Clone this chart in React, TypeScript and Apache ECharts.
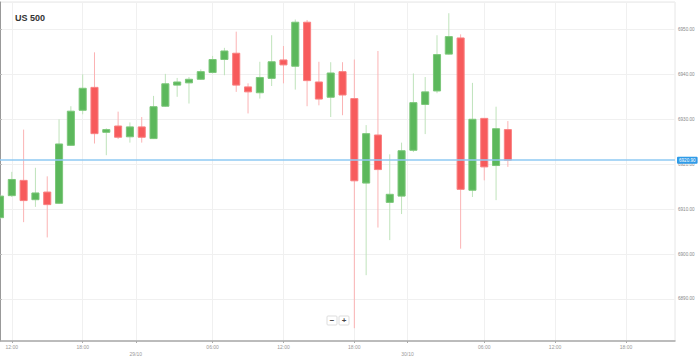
import React, { useEffect, useRef } from 'react';
import * as echarts from 'echarts';

// Hourly candle slots (market break removes one hour per day)
const slots = [
  0, 1, 2, 3, 4, 5, 6, 7, 8, 9, 10, 11, 12, 13, 14, 15, 16, 17, 18, 19, 20, 21,
  22, 23, 24, 25, 26, 27, 28, 29, 30, 31, 32, 33, 34, 35, 36, 37, 38, 39, 40, 41, 42, 43,
];
const opens = [
  6908.1, 6913.0, 6916.4, 6912.1, 6913.8, 6911.3, 6924.2, 6932.0, 6937.1, 6927.1, 6928.5,
  6926.1, 6928.3, 6925.7, 6932.9, 6937.6, 6938.1, 6938.9, 6940.4, 6943.3, 6944.7, 6937.2,
  6935.9, 6939.1, 6943.2, 6941.8, 6951.6, 6938.3, 6934.9, 6940.6, 6934.6, 6915.8, 6926.5,
  6911.5, 6912.9, 6923.1, 6933.3, 6936.3, 6944.5, 6948.1, 6914.2, 6930.2, 6919.7, 6927.7,
];
const closes = [
  6912.9, 6916.6, 6911.9, 6913.6, 6911.0, 6924.5, 6931.8, 6936.9, 6926.8, 6927.7, 6926.0,
  6928.3, 6926.0, 6932.8, 6937.9, 6938.3, 6938.9, 6940.6, 6943.3, 6945.2, 6937.6, 6936.1,
  6939.3, 6942.8, 6942.1, 6951.6, 6938.6, 6934.5, 6940.3, 6935.4, 6916.3, 6926.8, 6918.8,
  6913.3, 6923.0, 6933.7, 6936.1, 6944.4, 6948.4, 6914.4, 6930.0, 6919.4, 6927.9, 6920.9,
];
const lows = [
  6907.8, 6912.7, 6907.1, 6910.5, 6903.7, 6911.2, 6924.1, 6931.1, 6924.6, 6922.0, 6925.6,
  6924.8, 6924.8, 6925.6, 6932.8, 6935.0, 6933.5, 6938.8, 6940.2, 6939.8, 6936.1, 6931.3,
  6934.6, 6937.4, 6938.0, 6936.6, 6932.9, 6933.1, 6930.5, 6930.9, 6883.5, 6895.3, 6905.9,
  6903.1, 6908.9, 6922.7, 6926.7, 6935.8, 6944.4, 6901.2, 6912.7, 6916.4, 6912.0, 6919.4,
];
const highs = [
  6913.2, 6918.3, 6927.7, 6919.2, 6917.3, 6930.0, 6932.9, 6940.0, 6944.9, 6928.0, 6931.7,
  6929.3, 6930.5, 6935.2, 6940.1, 6939.2, 6939.4, 6941.1, 6944.1, 6945.9, 6949.5, 6938.0,
  6942.8, 6948.7, 6946.3, 6952.2, 6952.1, 6942.8, 6942.7, 6942.7, 6943.3, 6928.7, 6945.2,
  6922.2, 6924.8, 6940.2, 6939.4, 6948.7, 6953.6, 6948.9, 6938.1, 6930.2, 6932.8, 6929.6,
];

// x-axis tick positions (in candle slots) and their labels
const tickSlots = [1, 7, 11.5, 18, 24, 30, 34.5, 41, 47, 53];
const tickLabels = ['12:00', '18:00', '\n29/10', '06:00', '12:00', '18:00', '\n30/10', '06:00', '12:00', '18:00'];

const GREEN = '#5cb85c';
const GREEN_EDGE = '#7cc77a';
const GREEN_WICK = '#bfe3bb';
const RED = '#f75b5c';
const RED_EDGE = '#f98182';
const RED_WICK = '#fbb3b4';

export default function App() {
  const ref = useRef<HTMLDivElement>(null);

  useEffect(() => {
    const chart = echarts.init(ref.current as HTMLDivElement, null, { renderer: 'svg' });
    const data = opens.map((o, i) => [slots[i], o, closes[i], lows[i], highs[i]]);
    const last = closes[closes.length - 1];

    const renderItem = (params: any, api: any) => {
      const x = api.value(0);
      const o = api.value(1);
      const c = api.value(2);
      const l = api.value(3);
      const h = api.value(4);
      const po = api.coord([x, o]);
      const pc = api.coord([x, c]);
      const pl = api.coord([x, l]);
      const ph = api.coord([x, h]);
      const w = api.size([1, 0])[0] * 0.6;
      const up = c >= o;
      const top = Math.min(po[1], pc[1]);
      const hgt = Math.max(Math.abs(po[1] - pc[1]), 1);
      return {
        type: 'group',
        children: [
          {
            type: 'line',
            shape: { x1: pl[0], y1: pl[1], x2: ph[0], y2: ph[1] },
            style: { stroke: up ? GREEN_WICK : RED_WICK, lineWidth: 1 },
          },
          {
            type: 'rect',
            shape: { x: po[0] - w / 2, y: top, width: w, height: hgt },
            style: { fill: up ? GREEN : RED, stroke: up ? GREEN_EDGE : RED_EDGE, lineWidth: 1 },
          },
        ],
      };
    };

    chart.setOption({
      animation: false,
      backgroundColor: '#ffffff',
      textStyle: { fontFamily: 'Arial, "Liberation Sans", sans-serif' },
      title: {
        text: 'US 500',
        left: 10,
        top: 8,
        textStyle: { fontSize: 9, fontWeight: 'bold', color: '#333' },
      },
      grid: {
        left: 0,
        right: 24,
        top: 2,
        bottom: 17,
        show: true,
        borderColor: '#e6e6e6',
        borderWidth: 1,
      },
      xAxis: {
        type: 'value',
        min: 0,
        max: 57.15,
        axisLine: { show: true, lineStyle: { color: '#aaaaaa', width: 1.5 } },
        axisTick: { show: true, customValues: tickSlots, length: 2, lineStyle: { color: '#aaaaaa' } },
        axisLabel: {
          customValues: tickSlots,
          formatter: (v: number) => {
            const idx = tickSlots.findIndex((t) => Math.abs(t - v) < 1e-6);
            return idx >= 0 ? tickLabels[idx] : '';
          },
          fontSize: 5,
          color: '#999',
          margin: 2,
          lineHeight: 7,
        },
        splitLine: { show: true, lineStyle: { color: '#f0f0f0', width: 1 } },
      },
      yAxis: {
        type: 'value',
        position: 'right',
        min: 6880.65,
        max: 6956.1,
        splitNumber: 8,
        axisLine: { show: true, lineStyle: { color: '#999999' } },
        axisTick: { show: true, length: 2, lineStyle: { color: '#bbbbbb' } },
        axisLabel: {
          fontSize: 4.6,
          color: '#888',
          margin: 3,
          showMinLabel: false,
          showMaxLabel: false,
          formatter: (v: number) => v.toFixed(2),
        },
        splitLine: { show: true, lineStyle: { color: '#f0f0f0', width: 1 } },
      },
      series: [
        {
          type: 'custom',
          renderItem,
          data,
          encode: { x: 0, y: [1, 2, 3, 4] },
          clip: true,
          markLine: {
            symbol: 'none',
            silent: true,
            animation: false,
            lineStyle: { color: '#8fcaf3', width: 1.5, type: 'solid' },
            label: {
              show: true,
              position: 'end',
              formatter: last.toFixed(2),
              backgroundColor: '#2f9be8',
              color: '#fff',
              fontSize: 4.6,
              padding: [1, 2],
              borderRadius: 1,
              distance: 2,
            },
            data: [{ yAxis: last }],
          },
        },
      ],
      graphic: [
        {
          type: 'rect',
          shape: { x: 327, y: 316, width: 10, height: 9, r: 1 },
          style: { fill: '#fff', stroke: '#dddddd', lineWidth: 1 },
        },
        {
          type: 'rect',
          shape: { x: 339, y: 316, width: 10, height: 9, r: 1 },
          style: { fill: '#fff', stroke: '#dddddd', lineWidth: 1 },
        },
        {
          type: 'text',
          x: 332,
          y: 320.5,
          style: {
            text: '−',
            fontSize: 8,
            fontWeight: 'bold',
            fill: '#444',
            align: 'center',
            verticalAlign: 'middle',
            textAlign: 'center',
            textVerticalAlign: 'middle',
          },
        },
        {
          type: 'text',
          x: 344,
          y: 320.5,
          style: {
            text: '+',
            fontSize: 8,
            fontWeight: 'bold',
            fill: '#444',
            align: 'center',
            verticalAlign: 'middle',
            textAlign: 'center',
            textVerticalAlign: 'middle',
          },
        },
      ],
    });

    return () => chart.dispose();
  }, []);

  return (
    <div
      ref={ref}
      style={{ position: 'fixed', left: 0, top: 0, width: 699, height: 358, background: '#fff' }}
    />
  );
}
